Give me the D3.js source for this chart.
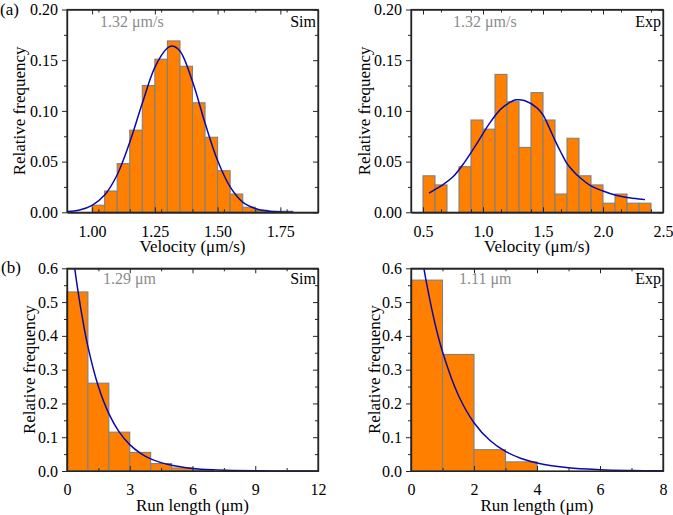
<!DOCTYPE html>
<html><head><meta charset="utf-8">
<script src="https://cdn.jsdelivr.net/npm/d3@7"></script>
<style>
html,body{margin:0;padding:0;background:#fff;}
text{font-family:"Liberation Serif","Times New Roman",serif;}
</style></head>
<body><svg id="c" width="673" height="515"></svg>
<script>
// ---------- DATA ----------
// (a) Sim velocity histogram: bin left edges (µm/s), width 0.05
const simVelBins = [1.00,1.05,1.10,1.15,1.20,1.25,1.30,1.35,1.40,1.45,1.50,1.55,1.60,1.65,1.70,1.75];
const simVelFreq = [0.007,0.021,0.048,0.081,0.125,0.151,0.169,0.144,0.108,0.074,0.041,0.018,0.005,0.002,0.001,0.001];
const simVelFitX = [0.90,0.95,1.00,1.05,1.10,1.15,1.20,1.25,1.30,1.32,1.35,1.40,1.45,1.50,1.55,1.60,1.65,1.70,1.75,1.80];
const simVelFitY = [0.0007,0.0023,0.0069,0.0170,0.0370,0.0690,0.1075,0.1430,0.1620,0.1640,0.1590,0.1290,0.0880,0.0510,0.0250,0.0100,0.0038,0.0012,0.0004,0.0001];

// (a) Exp velocity histogram: bin left edges, width 0.1
const expVelBins = [0.5,0.6,0.7,0.8,0.9,1.0,1.1,1.2,1.3,1.4,1.5,1.6,1.7,1.8,1.9,2.0,2.1,2.2,2.3];
const expVelFreq = [0.036,0.027,0,0.045,0.091,0.082,0.136,0.109,0.064,0.118,0.091,0.018,0.073,0.036,0.027,0.009,0.018,0.009,0.009];
const expVelFitX = [0.55,0.65,0.75,0.85,0.95,1.05,1.15,1.25,1.28,1.35,1.45,1.50,1.55,1.60,1.65,1.70,1.75,1.80,1.90,2.00,2.10,2.20,2.30,2.35];
const expVelFitY = [0.019,0.026,0.035,0.050,0.068,0.087,0.102,0.110,0.111,0.110,0.103,0.096,0.084,0.071,0.059,0.048,0.041,0.035,0.026,0.021,0.017,0.0145,0.013,0.0125];

// (b) Sim run length histogram: bin left edges (µm), width 1
const simRunBins = [0,1,2,3,4,5,6];
const simRunFreq = [0.53,0.26,0.115,0.055,0.022,0.009,0.003];
const simRunFitX = [0.37,0.5,0.75,1,1.5,2,2.5,3,3.5,4,5,6,7,8,9,10,11,12];
const simRunFitY = [0.60,0.543,0.448,0.368,0.250,0.170,0.115,0.078,0.053,0.036,0.017,0.0077,0.0035,0.0016,0.0007,0.0003,0.0001,0.0001];

// (b) Exp run length histogram: bin left edges, width 1
const expRunBins = [0,1,2,3];
const expRunFreq = [0.565,0.345,0.063,0.027];
const expRunFitX = [0.41,0.5,0.75,1,1.5,2,2.5,3,3.5,4,5,6,7,8];
const expRunFitY = [0.60,0.553,0.441,0.353,0.225,0.143,0.091,0.058,0.037,0.024,0.0096,0.0039,0.0016,0.0006];

// tick values
const simVelXTicks = [1.00,1.25,1.50,1.75];
const expVelXTicks = [0.5,1.0,1.5,2.0,2.5];
const velYTicks = [0.00,0.05,0.10,0.15,0.20];
const simRunXTicks = [0,3,6,9,12];
const expRunXTicks = [0,2,4,6,8];
const runYTicks = [0.0,0.1,0.2,0.3,0.4,0.5,0.6];

// ---------- DRAW ----------
const svg = d3.select("#c");
const ORANGE = "#FF8000", BARSTROKE = "#808080", FIT = "#0A0AA8", AXIS = "#262626";

function panel(o){
  const x = d3.scaleLinear().domain(o.xDom).range([o.L,o.R]);
  const y = d3.scaleLinear().domain(o.yDom).range([o.B,o.T]);
  const g = svg.append("g");
  g.selectAll("rect.bar").data(o.bins.map((b,i)=>({x0:b,x1:b+o.bw,v:o.freq[i]})).filter(d=>d.v>0))
    .enter().append("rect").attr("class","bar")
    .attr("x",d=>x(d.x0)).attr("width",d=>x(d.x1)-x(d.x0))
    .attr("y",d=>y(d.v)).attr("height",d=>y(0)-y(d.v))
    .attr("fill",ORANGE).attr("stroke",BARSTROKE).attr("stroke-width",1.1);
  const line = d3.line().x(d=>x(d[0])).y(d=>y(d[1])).curve(d3.curveCatmullRom.alpha(0.5));
  const pts = o.fitX.map((v,i)=>[v,o.fitY[i]]);
  g.append("clipPath").attr("id","cp"+o.id).append("rect")
    .attr("x",o.L).attr("y",o.T).attr("width",o.R-o.L).attr("height",o.B-o.T);
  g.append("path").attr("d",line(pts)).attr("fill","none").attr("stroke",FIT)
    .attr("stroke-width",1.5).attr("clip-path","url(#cp"+o.id+")");
  const minorX = d3.range(o.xDom[0], o.xDom[1]+1e-9, o.xMinor).filter(v=>!o.xTicks.some(t=>Math.abs(t-v)<1e-9));
  const minorY = d3.range(o.yDom[0], o.yDom[1]+1e-9, o.yMinor).filter(v=>!o.yTicks.some(t=>Math.abs(t-v)<1e-9));
  const bottom = d3.axisBottom(x).tickValues(o.xTicks).tickFormat(d3.format(o.xFmt)).tickSizeInner(-5).tickSizeOuter(0).tickPadding(13);
  g.append("g").attr("transform",`translate(0,${o.B})`).call(bottom);
  g.append("g").attr("transform",`translate(0,${o.B})`).call(d3.axisBottom(x).tickValues(minorX).tickSizeInner(-3).tickSizeOuter(0).tickFormat(""));
  g.append("g").attr("transform",`translate(0,${o.T})`).call(d3.axisTop(x).tickValues(o.xTicks).tickFormat("").tickSizeInner(-5).tickSizeOuter(0));
  g.append("g").attr("transform",`translate(0,${o.T})`).call(d3.axisTop(x).tickValues(minorX).tickSizeInner(-3).tickSizeOuter(0).tickFormat(""));
  const left = d3.axisLeft(y).tickValues(o.yTicks).tickFormat(d3.format(o.yFmt)).tickSizeInner(5).tickSizeOuter(0).tickPadding(4);
  g.append("g").attr("transform",`translate(${o.L},0)`).call(left);
  g.append("g").attr("transform",`translate(${o.L},0)`).call(d3.axisLeft(y).tickValues(minorY).tickSizeInner(3).tickSizeOuter(0).tickFormat(""));
  g.append("g").attr("transform",`translate(${o.R},0)`).call(d3.axisRight(y).tickValues(o.yTicks).tickFormat("").tickSizeInner(-5).tickSizeOuter(0));
  g.append("g").attr("transform",`translate(${o.R},0)`).call(d3.axisRight(y).tickValues(minorY).tickFormat("").tickSizeInner(-3).tickSizeOuter(0));
  g.selectAll(".domain").attr("stroke",AXIS).attr("stroke-width",1.2);
  g.selectAll(".tick line").attr("stroke",AXIS).attr("stroke-width",1);
  g.selectAll(".tick text").attr("font-family","Liberation Serif").attr("font-size",16).attr("fill","#000");
  g.append("rect").attr("x",o.L).attr("y",o.T).attr("width",o.R-o.L).attr("height",o.B-o.T)
    .attr("fill","none").attr("stroke",AXIS).attr("stroke-width",1.2);
  g.append("text").attr("x",(o.L+o.R)/2).attr("y",o.B+40).attr("text-anchor","middle")
    .attr("font-size",17).text(o.xTitle);
  g.append("text").attr("transform",`translate(${o.yTitleX},${(o.T+o.B)/2}) rotate(-90)`)
    .attr("text-anchor","middle").attr("font-size",17).text("Relative frequency");
  g.append("text").attr("x",o.annX).attr("y",o.annY).attr("font-size",16).attr("fill","#8c8c8c").text(o.ann);
  g.append("text").attr("x",o.R-2).attr("y",o.annY).attr("text-anchor","end").attr("font-size",16).attr("fill","#000").text(o.tag);
}

panel({id:1,L:67,R:318,T:9.5,B:212.3,xDom:[0.9,1.9],yDom:[0,0.2],bins:simVelBins,bw:0.05,freq:simVelFreq,
  fitX:simVelFitX,fitY:simVelFitY,xTicks:simVelXTicks,yTicks:velYTicks,xMinor:0.125,yMinor:0.025,
  xFmt:".2f",yFmt:".2f",xTitle:"Velocity (μm/s)",yTitleX:25,ann:"1.32 μm/s",annX:100,annY:27,tag:"Sim"});
panel({id:2,L:411,R:663,T:9.5,B:212.3,xDom:[0.4,2.5],yDom:[0,0.2],bins:expVelBins,bw:0.1,freq:expVelFreq,
  fitX:expVelFitX,fitY:expVelFitY,xTicks:expVelXTicks,yTicks:velYTicks,xMinor:0.25,yMinor:0.025,
  xFmt:".1f",yFmt:".2f",xTitle:"Velocity (μm/s)",yTitleX:370,ann:"1.32 μm/s",annX:453,annY:27,tag:"Exp"});
panel({id:3,L:67,R:318,T:268.3,B:471,xDom:[0,12],yDom:[0,0.6],bins:simRunBins,bw:1,freq:simRunFreq,
  fitX:simRunFitX,fitY:simRunFitY,xTicks:simRunXTicks,yTicks:runYTicks,xMinor:1.5,yMinor:0.05,
  xFmt:"d",yFmt:".1f",xTitle:"Run length (μm)",yTitleX:35,ann:"1.29 μm",annX:103,annY:284,tag:"Sim"});
panel({id:4,L:411,R:663,T:268.3,B:471,xDom:[0,8],yDom:[0,0.6],bins:expRunBins,bw:1,freq:expRunFreq,
  fitX:expRunFitX,fitY:expRunFitY,xTicks:expRunXTicks,yTicks:runYTicks,xMinor:1,yMinor:0.05,
  xFmt:"d",yFmt:".1f",xTitle:"Run length (μm)",yTitleX:380,ann:"1.11 μm",annX:459,annY:284,tag:"Exp"});

svg.append("text").attr("x",0).attr("y",15).attr("font-size",17).text("(a)");
svg.append("text").attr("x",1).attr("y",273).attr("font-size",17).text("(b)");
</script></body></html>
